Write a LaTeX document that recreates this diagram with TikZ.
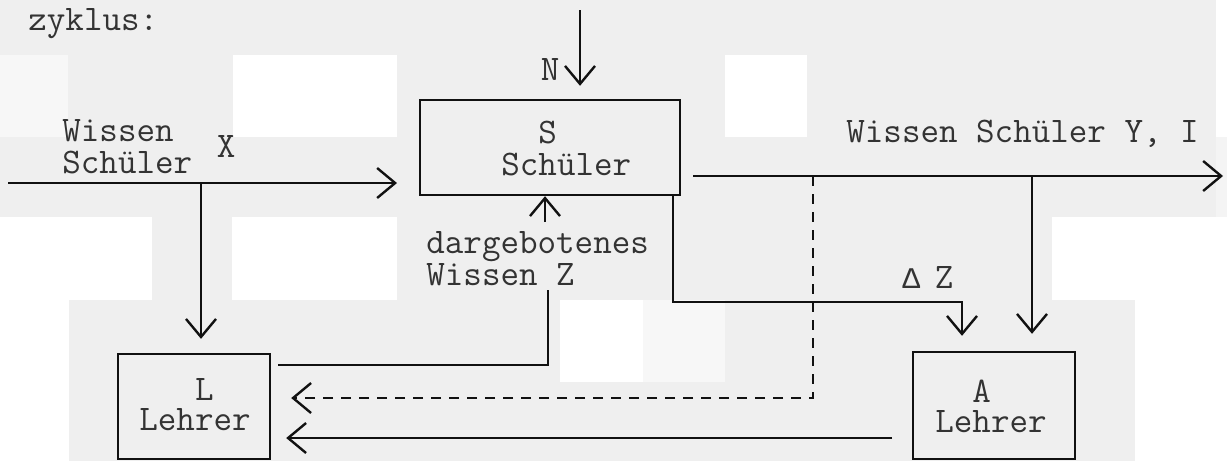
\documentclass[tikz,border=0pt]{standalone}
\usepackage{fontspec}
\newfontfamily\gfont{Liberation Mono}
\usetikzlibrary{arrows.meta}
\definecolor{bg}{HTML}{EFEFEF}
\definecolor{bgl}{HTML}{F7F7F7}
\definecolor{bgm}{HTML}{F4F4F4}
\definecolor{ink}{HTML}{111111}
\definecolor{txt}{HTML}{333333}
\begin{document}
\begin{tikzpicture}[x=0.5pt,y=-0.5pt,
  font=\ttfamily\fontsize{18}{16}\selectfont,
  box/.style={draw=ink, line width=1.2pt, inner sep=0pt},
  lbl/.style={inner sep=0pt, anchor=base west, text=txt, align=left},
  wire/.style={draw=ink, line width=1.2pt},
  arr/.style={wire, -{Straight Barb[length=9pt,width=15pt,line width=1.2pt]}},
  darr/.style={arr, dash pattern=on 5pt off 4pt}]
% background and scan patches
\fill[bg] (0,0) rectangle (1227,461);
\useasboundingbox (0,0) rectangle (1227,461);
\fill[bgl] (0,55) rectangle (68,137);
\fill[white] (233,55) rectangle (397,137);
\fill[white] (725,55) rectangle (807,137);
\fill[white] (1216,0) rectangle (1227,137);
\fill[bgm] (1216,137) rectangle (1227,217);
\fill[white] (0,217) rectangle (152,300);
\fill[white] (232,217) rectangle (397,300);
\fill[white] (1052,217) rectangle (1227,300);
\fill[white] (0,300) rectangle (69,461);
\fill[white] (560,300) rectangle (643,382);
\fill[bgl] (643,300) rectangle (725,382);
\fill[white] (1135,300) rectangle (1227,461);
% boxes
\node[box, minimum width=130pt, minimum height=47.5pt] (S) at (550,147.5) {};
\node[box, minimum width=76pt, minimum height=52.5pt] (L) at (194,406.5) {};
\node[box, minimum width=81pt, minimum height=53.5pt] (A) at (994,405.5) {};
% labels (base anchor = baseline of the last line)
\node[lbl] (zyk) at (28,30) {zyklus:};
\node[lbl] (wx) at (62,173) {Wissen\\Schüler};
\node[lbl] (xl) at (216.5,157) {X};
\node[lbl] (nl) at (540.5,80) {N};
\node[lbl] (sl) at (501,175) {\phantom{Sc}S\\Schüler};
\node[lbl] (zl) at (426,285) {dargebotenes\\Wissen Z};
\node[lbl] (yl) at (846,142) {Wissen Schüler Y, I};
\node[lbl] (dz) at (902,288) {{\gfont\fontsize{15}{16}\selectfont Δ}\hspace{7.25pt}Z};
\node[lbl] (ll) at (139,430) {\phantom{Leh}L\\[-1pt]Lehrer};
\node[lbl] (al) at (935,432) {\phantom{Le}A\\[-1pt]Lehrer};
% coordinates
\coordinate (xin) at (8,183);
\coordinate (xj) at (201,183);
\coordinate (xtip) at (397,183);
\coordinate (ntop) at (580,10);
\coordinate (zup) at (545,222);
\coordinate (zdn) at (548,290);
\coordinate (zc) at (548,365);
\coordinate (yout) at (693,176);
\coordinate (ytip) at (1223,176);
\coordinate (yj) at (1032,176);
\coordinate (dzs) at (673,195);
\coordinate (dzc) at (962,302);
\coordinate (dj) at (813,176);
\coordinate (dc) at (813,398);
\coordinate (bs) at (892,438);
% connectors
\draw[arr] (xin) -- (xtip);
\draw[arr, shorten >=7pt] (xj) -- (xj |- L.north);
\draw[arr, shorten >=6.5pt] (ntop) -- (ntop |- S.north);
\draw[arr] (zup) -- (zup |- S.south);
\draw[wire, shorten >=3.5pt] (zdn) -- (zc) -- (zc -| L.east);
\draw[arr] (yout) -- (ytip);
\draw[arr, shorten >=8.5pt] (yj) -- (yj |- A.north);
\draw[arr, shorten >=7.5pt] (dzs) |- (dzc) -- (dzc |- A.north);
\draw[darr, shorten >=10pt] (dj) -- (dc) -- (dc -| L.east);
\draw[arr, shorten >=7.5pt] (bs) -- (bs -| L.east);
\end{tikzpicture}
\end{document}
